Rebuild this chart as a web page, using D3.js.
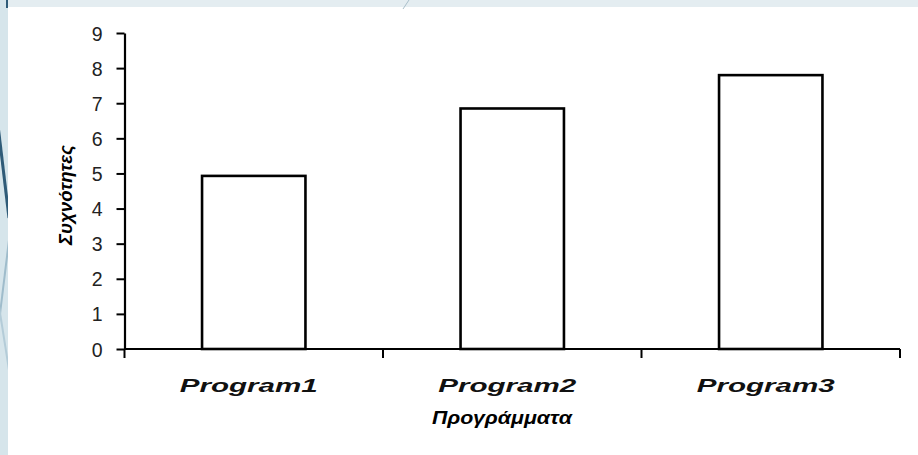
<!DOCTYPE html>
<html>
<head>
<meta charset="utf-8">
<script src="https://cdn.jsdelivr.net/npm/d3@7/dist/d3.min.js"></script>
<style>
  html, body { margin: 0; padding: 0; background: #fff; }
  svg { display: block; }
</style>
</head>
<body>
<svg id="chart" width="918" height="455"></svg>
<script>
// Frequencies per program
const categories = ["Program1", "Program2", "Program3"];
const values = [4.93, 6.85, 7.8];
const yTicks = [0, 1, 2, 3, 4, 5, 6, 7, 8, 9];
const yTitle = "Συχνότητες";
const xTitle = "Προγράμματα";

const W = 918, H = 455;
const plot = { left: 124.5, right: 900, top: 33, bottom: 349 };

const svg = d3.select("#chart");

// Slide decoration: pale frame along the top and left edge
const deco = svg.append("g");
deco.append("rect").attr("x", 0).attr("y", 0).attr("width", W).attr("height", 7).attr("fill", "#e4edf1");
deco.append("rect").attr("x", 0).attr("y", 0).attr("width", 8).attr("height", H).attr("fill", "#d6e5eb");
deco.append("defs").append("clipPath").attr("id", "strip")
  .append("rect").attr("x", 0).attr("y", 0).attr("width", 8).attr("height", H);
const stripes = deco.append("g").attr("clip-path", "url(#strip)");
stripes.append("line").attr("x1", -2).attr("y1", 125).attr("x2", 9).attr("y2", 218)
  .attr("stroke", "#2f5b78").attr("stroke-width", 3);
stripes.append("line").attr("x1", 9).attr("y1", 240).attr("x2", -2).attr("y2", 330)
  .attr("stroke", "#9fbccb").attr("stroke-width", 2);
stripes.append("line").attr("x1", -2).attr("y1", 300).attr("x2", 9).attr("y2", 370)
  .attr("stroke", "#b4ccd8").attr("stroke-width", 2);
deco.append("line").attr("x1", 7).attr("y1", 0).attr("x2", 7).attr("y2", 8)
  .attr("stroke", "#2f5b78").attr("stroke-width", 2);
deco.append("line").attr("x1", 409).attr("y1", 0).attr("x2", 403).attr("y2", 9)
  .attr("stroke", "#a9bfca").attr("stroke-width", 1);

// Scales
const x = d3.scaleBand().domain(categories).range([plot.left, plot.right])
  .paddingInner(0.6).paddingOuter(0.3);
const y = d3.scaleLinear().domain([0, 9]).range([plot.bottom, plot.top]);

const textFont = "'Liberation Sans', Arial, sans-serif";

// Bars
svg.append("g").selectAll("rect").data(categories).join("rect")
  .attr("x", d => x(d))
  .attr("y", (d, i) => y(values[i]))
  .attr("width", x.bandwidth())
  .attr("height", (d, i) => y(0) - y(values[i]))
  .attr("fill", "#fff")
  .attr("stroke", "#000")
  .attr("stroke-width", 2.6);

// Y axis
const yAxis = svg.append("g")
  .attr("transform", `translate(${plot.left},0)`)
  .call(d3.axisLeft(y).tickValues(yTicks).tickSize(8).tickSizeOuter(0).tickPadding(14));
yAxis.select(".domain").attr("stroke", "#000").attr("stroke-width", 2.2);
yAxis.selectAll(".tick line").attr("stroke", "#000").attr("stroke-width", 2);
yAxis.selectAll(".tick text")
  .attr("font-family", textFont).attr("font-size", 19.5).attr("fill", "#222")
  .attr("dy", "0.36em");

// X axis: baseline with tick marks at the category boundaries
const boundaries = d3.range(categories.length + 1).map(i => plot.left + i * x.step());
const xAxis = svg.append("g");
xAxis.append("line")
  .attr("x1", plot.left).attr("x2", boundaries[boundaries.length - 1])
  .attr("y1", y(0)).attr("y2", y(0))
  .attr("stroke", "#000").attr("stroke-width", 2.2);
xAxis.selectAll("line.tick").data(boundaries).join("line").attr("class", "tick")
  .attr("x1", d => d).attr("x2", d => d)
  .attr("y1", y(0)).attr("y2", y(0) + 9)
  .attr("stroke", "#000").attr("stroke-width", 2);

// Category labels
svg.append("g").selectAll("text").data(categories).join("text")
  .attr("x", d => x(d) + x.bandwidth() / 2 - 5)
  .attr("y", 392)
  .attr("text-anchor", "middle")
  .attr("font-family", textFont).attr("font-size", 18)
  .attr("font-weight", "bold").attr("font-style", "italic")
  .attr("fill", "#111")
  .attr("textLength", 138).attr("lengthAdjust", "spacingAndGlyphs")
  .text(d => d);

// Axis titles
svg.append("text")
  .attr("x", 502).attr("y", 424)
  .attr("text-anchor", "middle")
  .attr("font-family", textFont).attr("font-size", 18)
  .attr("font-weight", "bold").attr("font-style", "italic")
  .attr("fill", "#000")
  .attr("textLength", 140).attr("lengthAdjust", "spacingAndGlyphs")
  .text(xTitle);

svg.append("text")
  .attr("transform", "translate(72,195) rotate(-90)")
  .attr("text-anchor", "middle")
  .attr("font-family", textFont).attr("font-size", 19)
  .attr("font-weight", "bold").attr("font-style", "italic")
  .attr("fill", "#000")
  .attr("textLength", 100).attr("lengthAdjust", "spacingAndGlyphs")
  .text(yTitle);
</script>
</body>
</html>
